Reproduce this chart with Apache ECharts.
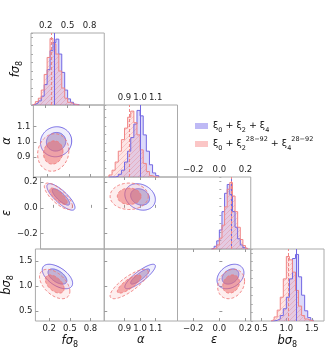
<!DOCTYPE html>
<html>
<head>
<meta charset="utf-8">
<script src="https://cdn.jsdelivr.net/npm/echarts@6/dist/echarts.min.js"></script>
<style>
  html, body { margin: 0; padding: 0; background: #fff; }
  #chart { width: 334px; height: 351px; }
</style>
</head>
<body>
<div id="chart"></div>
<script>
// 参数: fσ8, α, ε, bσ8
const axisRanges = [[0.0, 1.0], [0.77, 1.24], [-0.32, 0.24], [0.3, 1.74]];
const fs8Ticks = [0.2, 0.5, 0.8];
const alphaTicks = [0.9, 1.0, 1.1];
const epsTicks = [-0.2, 0.0, 0.2];
const bs8Ticks = [0.5, 1.0, 1.5];

// 直方图 (起点, 宽度, 高度)
const fs8Bins = [0.02, 0.04];
const fs8HistBlue = [0.01, 0.03, 0.06, 0.13, 0.30, 0.52, 0.80, 0.92, 0.97, 0.75, 0.48, 0.22, 0.09, 0.04, 0.01, 0.005];
const fs8HistRed = [0.02, 0.05, 0.10, 0.22, 0.45, 0.70, 0.98, 0.90, 0.75, 0.50, 0.25, 0.10, 0.04, 0.02, 0.005, 0];
const alphaBins = [0.80, 0.02];
const alphaHistBlue = [0, 0, 0.01, 0.04, 0.10, 0.22, 0.38, 0.58, 0.78, 0.98, 0.90, 0.62, 0.38, 0.18, 0.06, 0.02];
const alphaHistRed = [0.03, 0.10, 0.22, 0.38, 0.55, 0.72, 0.88, 0.97, 0.80, 0.62, 0.40, 0.20, 0.08, 0.02, 0, 0];
const epsBins = [-0.06, 0.02];
const epsHistBlue = [0.01, 0.04, 0.12, 0.28, 0.55, 0.82, 0.95, 0.80, 0.55, 0.32, 0.15, 0.06, 0.02, 0];
const epsHistRed = [0, 0.02, 0.06, 0.16, 0.35, 0.62, 0.88, 0.98, 0.78, 0.55, 0.32, 0.14, 0.05, 0.01];
const bs8Bins = [0.70, 0.06];
const bs8HistBlue = [0, 0.01, 0.03, 0.08, 0.18, 0.35, 0.62, 0.92, 0.98, 0.65, 0.38, 0.15, 0.05, 0.01];
const bs8HistRed = [0.02, 0.06, 0.16, 0.35, 0.62, 0.95, 0.90, 0.72, 0.45, 0.22, 0.08, 0.03, 0.01, 0];

// 均值 / 标准差 / 相关系数
const meanBlue = [0.32, 1.0, 0.085, 1.19];
const meanRed = [0.28, 0.93, 0.09, 1.04];
const sigmaBlue = [0.09, 0.04, 0.042, 0.10];
const sigmaRed = [0.09, 0.05, 0.042, 0.12];
const corrPairs = [[1, 0], [2, 0], [2, 1], [3, 0], [3, 1], [3, 2]];
const corrBlue = [0.05, -0.8, -0.2, -0.55, 0.85, 0.3];
const corrRed = [0.1, -0.75, 0.0, -0.5, 0.8, 0.2];
const contourRadii = [2.45, 1.52];

const nameBlue = 'ξ0 + ξ2 + ξ4';
const nameRed = 'ξ0 + ξ2^(28-92) + ξ4^(28-92)';

const allTicks = [fs8Ticks, alphaTicks, epsTicks, bs8Ticks];
const allBins = [fs8Bins, alphaBins, epsBins, bs8Bins];
const allHistBlue = [fs8HistBlue, alphaHistBlue, epsHistBlue, bs8HistBlue];
const allHistRed = [fs8HistRed, alphaHistRed, epsHistRed, bs8HistRed];
const axisNames = ['{i|fσ}{s|8}', '{i|α}', '{i|ε}', '{i|bσ}{s|8}'];

const L = 31, T = 33, W = 73.25, H = 72;
const blueLine = '#7267e3';
const redLine = '#f08585';
const font = 'DejaVu Sans';

// 斜线填充
const hatch = document.createElement('canvas');
hatch.width = 5; hatch.height = 5;
(function () {
  const c = hatch.getContext('2d');
  c.fillStyle = 'rgba(248,160,160,0.38)';
  c.fillRect(0, 0, 5, 5);
  c.strokeStyle = 'rgba(236,100,100,0.5)';
  c.lineWidth = 0.8;
  c.beginPath();
  c.moveTo(0, 5); c.lineTo(5, 0);
  c.moveTo(-1, 1); c.lineTo(1, -1);
  c.moveTo(4, 6); c.lineTo(6, 4);
  c.stroke();
})();

function stepPoints(bins, counts) {
  const pts = [[bins[0], 0]];
  counts.forEach((c, k) => {
    const a = bins[0] + k * bins[1];
    pts.push([a, c], [a + bins[1], c]);
  });
  pts.push([bins[0] + counts.length * bins[1], 0]);
  return pts;
}

function ellipse(mx, my, sx, sy, rho, r) {
  const pts = [];
  for (let k = 0; k <= 90; k++) {
    const t = 2 * Math.PI * k / 90;
    pts.push([mx + r * sx * Math.cos(t),
              my + r * sy * (rho * Math.cos(t) + Math.sqrt(1 - rho * rho) * Math.sin(t))]);
  }
  return pts;
}

const fmt = v => v.toFixed(1).replace('-', '−');
const nameRich = {
  i: { fontFamily: font, fontStyle: 'italic', fontSize: 11.5, color: '#111' },
  s: { fontFamily: font, fontSize: 8, color: '#111', verticalAlign: 'bottom', lineHeight: 16 }
};

const grids = [], xAxes = [], yAxes = [], series = [];

function addPanel(i, j) {
  grids.push({
    left: L + j * W, top: T + i * H, width: W, height: H,
    show: true, borderColor: '#aaa', borderWidth: 1
  });
  const g = grids.length - 1;
  const diag = i === j;
  const showX = i === 3 || (diag && i < 3);
  xAxes.push({
    gridIndex: g, type: 'value', min: axisRanges[j][0], max: axisRanges[j][1],
    position: diag && i < 3 ? 'top' : 'bottom',
    axisLine: { show: false }, splitLine: { show: false },
    axisTick: { show: true, inside: true, length: 3, customValues: allTicks[j], lineStyle: { color: '#999' } },
    axisLabel: { show: showX, customValues: allTicks[j], formatter: fmt, fontSize: 8.5, fontFamily: font, color: '#222', margin: 3 },
    name: i === 3 ? axisNames[j] : '', nameLocation: 'middle', nameGap: 12,
    nameTextStyle: { rich: nameRich }
  });
  if (diag) {
    yAxes.push({
      gridIndex: g, type: 'value', min: 0, max: 1.06, interval: 0.125,
      axisLine: { show: false }, splitLine: { show: false },
      axisTick: { show: true, inside: true, length: 2, lineStyle: { color: '#aaa' } },
      axisLabel: { show: false },
      name: i === 0 ? axisNames[0] : '', nameLocation: 'middle', nameRotate: 90, nameGap: 7,
      nameTextStyle: { rich: nameRich }
    });
  } else {
    yAxes.push({
      gridIndex: g, type: 'value', min: axisRanges[i][0], max: axisRanges[i][1],
      axisLine: { show: false }, splitLine: { show: false },
      axisTick: { show: true, inside: true, length: 3, customValues: allTicks[i], lineStyle: { color: '#999' } },
      axisLabel: { show: j === 0, customValues: allTicks[i], formatter: fmt, fontSize: 8.5, fontFamily: font, color: '#222', margin: 3 },
      name: j === 0 ? axisNames[i] : '', nameLocation: 'middle', nameRotate: 90, nameGap: 16,
      nameTextStyle: { rich: nameRich }
    });
  }
  return g;
}

for (let k = 0; k < 4; k++) {
  const g = addPanel(k, k);
  series.push({
    name: nameBlue, type: 'line', xAxisIndex: g, yAxisIndex: g,
    data: stepPoints(allBins[k], allHistBlue[k]), showSymbol: false, silent: true,
    lineStyle: { color: blueLine, width: 1 }, itemStyle: { color: blueLine },
    areaStyle: { color: 'rgba(125,115,235,0.38)' },
    markLine: { silent: true, symbol: 'none', label: { show: false },
      lineStyle: { color: blueLine, width: 1, type: 'solid' }, data: [{ xAxis: meanBlue[k] }] }
  });
  series.push({
    name: nameRed, type: 'line', xAxisIndex: g, yAxisIndex: g,
    data: stepPoints(allBins[k], allHistRed[k]), showSymbol: false, silent: true,
    lineStyle: { color: redLine, width: 1 }, itemStyle: { color: redLine },
    areaStyle: { color: { image: hatch, repeat: 'repeat' } },
    markLine: { silent: true, symbol: 'none', label: { show: false },
      lineStyle: { color: redLine, width: 1, type: [3, 2] }, data: [{ xAxis: meanRed[k] }] }
  });
}

const contourStyles = [
  { mean: meanBlue, sig: sigmaBlue, corr: corrBlue, name: nameBlue,
    styles: [
      { fill: 'rgba(130,120,235,0.13)', stroke: blueLine, lineDash: null },
      { fill: 'rgba(120,118,190,0.45)', stroke: blueLine, lineDash: null }
    ] },
  { mean: meanRed, sig: sigmaRed, corr: corrRed, name: nameRed,
    styles: [
      { fill: 'rgba(250,150,150,0.16)', stroke: 'rgba(240,120,120,0.9)', lineDash: [3, 2] },
      { fill: 'rgba(236,100,100,0.5)', stroke: 'rgba(240,120,120,0.9)', lineDash: [3, 2] }
    ] }
];

corrPairs.forEach((pair, n) => {
  const [i, j] = pair;
  const g = addPanel(i, j);
  contourStyles.forEach(m => {
    contourRadii.forEach((r, lv) => {
      const pts = ellipse(m.mean[j], m.mean[i], m.sig[j], m.sig[i], m.corr[n], r);
      const st = m.styles[lv];
      series.push({
        name: m.name, type: 'custom', xAxisIndex: g, yAxisIndex: g, silent: true,
        data: [[m.mean[j], m.mean[i]]],
        renderItem: (p, api) => ({
          type: 'polygon',
          shape: { points: pts.map(q => api.coord(q)) },
          style: { fill: st.fill, stroke: st.stroke, lineWidth: 1, lineDash: st.lineDash }
        })
      });
    });
  });
});

const legendRich = {
  t: { fontFamily: font, fontSize: 9.5, color: '#111', lineHeight: 16, verticalAlign: 'middle' },
  s: { fontFamily: font, fontSize: 6.5, color: '#111', lineHeight: 16, verticalAlign: 'bottom' },
  p: { fontFamily: font, fontSize: 6.5, color: '#111', lineHeight: 16, verticalAlign: 'top' }
};
const legendText = {};
legendText[nameBlue] = '{t|ξ}{s|0}{t| + ξ}{s|2}{t| + ξ}{s|4}';
legendText[nameRed] = '{t|ξ}{s|0}{t| + ξ}{s|2}{p|28−92}{t| + ξ}{s|4}{p|28−92}';

const chart = echarts.init(document.getElementById('chart'));
chart.setOption({
  animation: false,
  grid: grids,
  xAxis: xAxes,
  yAxis: yAxes,
  legend: {
    left: 190, top: 116, orient: 'vertical', icon: 'rect',
    itemWidth: 13, itemHeight: 6, itemGap: 2,
    selectedMode: false,
    data: [
      { name: nameBlue, itemStyle: { color: 'rgba(125,115,235,0.5)' } },
      { name: nameRed, itemStyle: { color: 'rgba(248,160,160,0.6)' } }
    ],
    formatter: name => legendText[name],
    textStyle: { rich: legendRich }
  },
  series: series
});
</script>
</body>
</html>
